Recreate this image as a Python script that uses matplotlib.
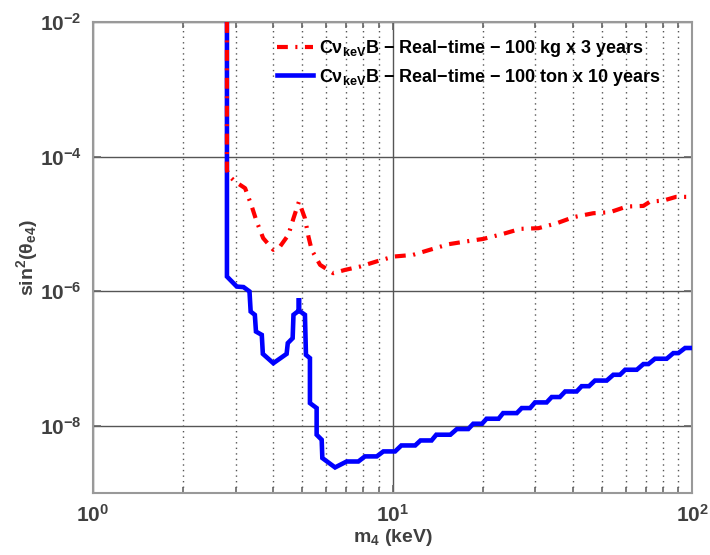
import numpy as np
import matplotlib
matplotlib.use('Agg')
import matplotlib.pyplot as plt
from matplotlib.ticker import FixedLocator, NullLocator, LogLocator, NullFormatter

plt.rcParams['font.family'] = ['Liberation Sans', 'DejaVu Sans']
plt.rcParams['font.weight'] = 'bold'
plt.rcParams['mathtext.fontset'] = 'custom'
plt.rcParams['mathtext.rm'] = 'Liberation Sans:bold'
plt.rcParams['mathtext.bf'] = 'Liberation Sans:bold'
plt.rcParams['mathtext.it'] = 'Liberation Sans:bold'
plt.rcParams['mathtext.default'] = 'bf'

# 100 kg x 3 years (red, dash-dot)
m_kg = [2.80, 2.80, 2.83, 2.98, 3.22, 3.39, 3.52, 3.70, 4.00, 4.21, 4.49, 4.67,
        4.87, 5.10, 5.24, 5.37, 5.73, 6.34, 6.94, 7.79, 8.97, 10.1, 11.7, 13.3,
        15.4, 17.5, 20.1, 23.4, 26.7, 30.7, 35.3, 40.2, 46.8, 53.2, 60.5, 68.8,
        72.4, 80.2, 88.4, 100.0]
s_kg = [1e-2, 6.3e-5, 5.3e-5, 4.25e-5, 3.39e-5, 1.81e-5, 1.08e-5, 6.13e-6, 4.11e-6,
        4.60e-6, 6.86e-6, 1.21e-5, 2.14e-5, 1.21e-5, 6.47e-6, 4.11e-6, 2.46e-6,
        1.85e-6, 2.07e-6, 2.32e-6, 2.82e-6, 3.27e-6, 3.46e-6, 4.11e-6, 4.99e-6,
        5.46e-6, 5.98e-6, 7.10e-6, 8.43e-6, 8.63e-6, 1.02e-5, 1.26e-5, 1.44e-5,
        1.49e-5, 1.81e-5, 1.85e-5, 2.14e-5, 2.22e-5, 2.52e-5, 2.52e-5]

# 100 ton x 10 years (blue, solid)
m_ton = [2.80, 2.80, 3.02, 3.18, 3.33, 3.36, 3.47, 3.50, 3.66, 3.69, 4.00, 4.43,
         4.47, 4.64, 4.67, 4.87, 4.87, 4.87, 5.10, 5.14, 5.30, 5.30, 5.58, 5.58,
         5.80, 5.83, 6.43, 7.03, 7.69, 8.09, 8.86, 9.32, 10.2, 10.7, 11.9, 12.4,
         13.5, 14.0, 15.6, 16.4, 17.9, 18.6, 19.9, 20.6, 22.6, 23.4, 26.0, 27.0,
         28.8, 29.9, 32.7, 34.0, 36.2, 37.7, 41.2, 42.8, 45.3, 47.4, 51.9, 54.6,
         57.5, 59.8, 65.4, 68.8, 71.5, 75.2, 82.3, 86.6, 90.0, 94.8, 100.0]
s_ton = [1e-2, 1.65e-6, 1.17e-6, 1.15e-6, 9.9e-7, 4.98e-7, 4.44e-7, 2.51e-7,
         2.24e-7, 1.17e-7, 8.5e-8, 1.17e-7, 1.69e-7, 2.0e-7, 4.45e-7, 5.15e-7,
         7.9e-7, 5.15e-7, 4.45e-7, 1.13e-7, 1.01e-7, 2.17e-8, 1.83e-8, 7.35e-9,
         6.19e-9, 3.31e-9, 2.40e-9, 2.94e-9, 2.94e-9, 3.50e-9, 3.50e-9, 4.15e-9,
         4.15e-9, 5.09e-9, 5.09e-9, 6.04e-9, 6.04e-9, 7.35e-9, 7.35e-9, 8.93e-9,
         8.93e-9, 1.07e-8, 1.07e-8, 1.27e-8, 1.27e-8, 1.54e-8, 1.54e-8, 1.83e-8,
         1.83e-8, 2.22e-8, 2.22e-8, 2.67e-8, 2.67e-8, 3.23e-8, 3.23e-8, 3.87e-8,
         3.87e-8, 4.69e-8, 4.69e-8, 5.72e-8, 5.72e-8, 6.79e-8, 6.79e-8, 8.25e-8,
         8.25e-8, 9.9e-8, 9.9e-8, 1.20e-7, 1.20e-7, 1.43e-7, 1.43e-7]

x_ticks = [1, 10, 100]
x_ticklabels = [r'$10^{0}$', r'$10^{1}$', r'$10^{2}$']
y_ticks = [1e-8, 1e-6, 1e-4, 1e-2]
y_ticklabels = [r'$10^{-8}$', r'$10^{-6}$', r'$10^{-4}$', r'$10^{-2}$']

label_kg = r'C$ν_{keV}$B − Real−time − 100 kg x 3 years'
label_ton = r'C$ν_{keV}$B − Real−time − 100 ton x 10 years'

fig = plt.figure(figsize=(7.1, 5.55), dpi=100)
ax = fig.add_axes([0.131, 0.1117, 0.8437, 0.8486])

ax.plot(m_kg, s_kg, color='red', lw=3, linestyle=(0, (2.6, 1.8, 0.5, 1.8)),
        label=label_kg, zorder=4)
ax.plot(m_ton, s_ton, color='blue', lw=3.3, solid_joinstyle='miter',
        label=label_ton, zorder=3)

ax.set_xscale('log')
ax.set_yscale('log')
ax.set_xlim(1, 100)
ax.set_ylim(1e-9, 1e-2)

ax.xaxis.set_major_locator(FixedLocator(x_ticks))
ax.set_xticklabels(x_ticklabels)
ax.xaxis.set_minor_locator(LogLocator(base=10, subs=np.arange(2, 10)))
ax.xaxis.set_minor_formatter(NullFormatter())
ax.yaxis.set_major_locator(FixedLocator(y_ticks))
ax.set_yticklabels(y_ticklabels)
ax.yaxis.set_minor_locator(NullLocator())

ax.grid(True, which='major', axis='both', color='#555555', lw=1.0, ls='-')
ax.grid(True, which='minor', axis='x', color='#555555', lw=1.0, ls=(0, (1, 3)))
ax.set_axisbelow(True)

for sp in ax.spines.values():
    sp.set_color('#999999')
    sp.set_linewidth(1.5)

ax.tick_params(which='both', direction='in', top=True, right=True,
               colors='#666666', labelcolor='#404040', labelsize=15)
ax.tick_params(which='major', length=6, width=1.2, pad=8)
ax.tick_params(which='minor', length=4, width=1.2)

ax.set_xlabel(r'm$_4$ (keV)', fontsize=14, fontweight='bold', color='#404040', labelpad=1)
ax.set_ylabel(r'sin$^2$(θ$_{e4}$)', fontsize=14, fontweight='bold', color='#404040', labelpad=0)

leg = ax.legend(loc='upper right', bbox_to_anchor=(0.975, 1.0), frameon=False,
                fontsize=13, handlelength=2.0, handletextpad=0.3, labelspacing=0.4)
for t in leg.get_texts():
    t.set_fontweight('bold')

fig.savefig('out.png', dpi=100)
